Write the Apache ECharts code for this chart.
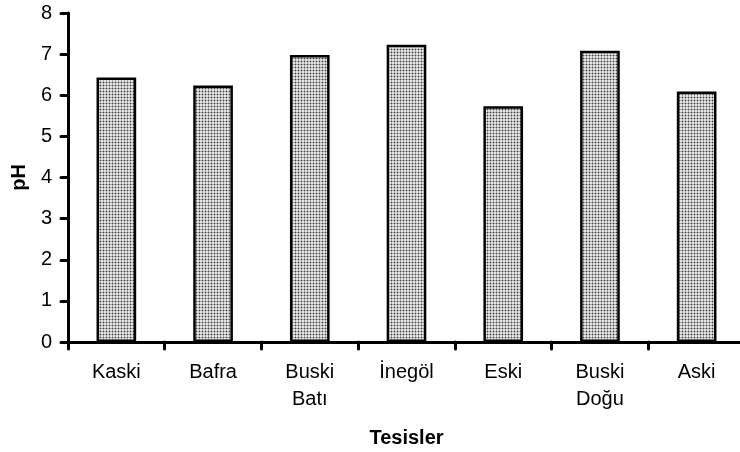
<!DOCTYPE html>
<html>
<head>
<meta charset="utf-8">
<script src="https://cdn.jsdelivr.net/npm/echarts@6/dist/echarts.min.js"></script>
<style>
  html, body { margin: 0; padding: 0; background: #fff; }
  #chart { width: 740px; height: 452px; }
</style>
</head>
<body>
<div id="chart"></div>
<script>
// tesisler ve pH degerleri
var categories = ['Kaski', 'Bafra', 'Buski\nBatı', 'İnegöl', 'Eski', 'Buski\nDoğu', 'Aski'];
var phValues = [6.43, 6.24, 6.98, 7.23, 5.73, 7.08, 6.09];
var yTicks = [0, 1, 2, 3, 4, 5, 6, 7, 8];

// noktali dolgu (3x3 tile)
var tile = document.createElement('canvas');
tile.width = 3;
tile.height = 3;
var ctx = tile.getContext('2d');
ctx.fillStyle = '#e2e2e2';
ctx.fillRect(0, 0, 3, 3);
ctx.fillStyle = '#aaaaaa';
ctx.fillRect(0, 1, 3, 1);
ctx.fillRect(1, 0, 1, 3);
ctx.fillStyle = '#404040';
ctx.fillRect(1, 1, 1, 1);

var font = 'Liberation Sans, Arial, sans-serif';
var chart = echarts.init(document.getElementById('chart'));

chart.setOption({
    animation: false,
    backgroundColor: '#fff',
    grid: {
        left: 68,
        width: 677,
        top: 13,
        bottom: 110,
        outerBoundsMode: 'none'
    },
    xAxis: {
        type: 'category',
        data: categories,
        name: 'Tesisler',
        nameLocation: 'middle',
        nameGap: 86,
        nameTextStyle: { fontFamily: font, fontSize: 20, fontWeight: 'bold', color: '#000' },
        axisLine: { lineStyle: { color: '#000', width: 3 } },
        axisTick: { show: true, length: 7, lineStyle: { color: '#000', width: 3, cap: 'round' } },
        axisLabel: { fontFamily: font, fontSize: 20, color: '#000', margin: 17, lineHeight: 27 }
    },
    yAxis: {
        type: 'value',
        min: yTicks[0],
        max: yTicks[yTicks.length - 1],
        interval: 1,
        name: 'pH',
        nameLocation: 'middle',
        nameGap: 38,
        nameTextStyle: { fontFamily: font, fontSize: 20, fontWeight: 'bold', color: '#000' },
        axisLine: { show: true, lineStyle: { color: '#000', width: 3 } },
        axisTick: { show: true, length: 7, lineStyle: { color: '#000', width: 3, cap: 'round' } },
        axisLabel: { fontFamily: font, fontSize: 20, color: '#000', margin: 16 },
        splitLine: { show: false }
    },
    series: [
        {
            type: 'bar',
            data: phValues,
            barWidth: '41%',
            itemStyle: {
                color: { image: tile, repeat: 'repeat' },
                borderColor: '#000',
                borderWidth: 2.5
            }
        }
    ]
});
</script>
</body>
</html>
